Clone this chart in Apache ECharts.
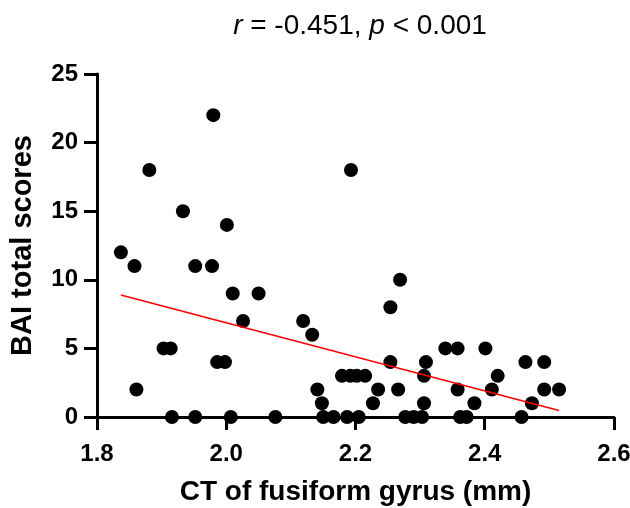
<!DOCTYPE html>
<html>
<head>
<meta charset="utf-8">
<script src="https://cdn.jsdelivr.net/npm/echarts@6/dist/echarts.min.js"></script>
<style>
  html, body { margin: 0; padding: 0; background: #fff; }
  #chart { width: 630px; height: 508px; }
</style>
</head>
<body>
<div id="chart"></div>
<script>
// CT of fusiform gyrus (mm) and BAI total score
const ctValues = [
  1.980, 1.881, 2.193, 1.933, 2.001, 1.837, 1.858, 1.952, 1.978, 2.269,
  2.010, 2.050, 2.254, 2.026, 2.119, 2.133,
  1.903, 1.914, 2.339, 2.358, 2.401,
  1.986, 1.998, 2.254, 2.309, 2.463, 2.492,
  2.179, 2.192, 2.202, 2.215, 2.306, 2.420,
  1.861, 2.141, 2.235, 2.266, 2.358, 2.411, 2.492, 2.515,
  2.148, 2.227, 2.306, 2.384, 2.473,
  1.916, 1.952, 2.007, 2.076, 2.150, 2.166, 2.187, 2.205, 2.277, 2.290, 2.303, 2.362, 2.372, 2.457
]
const baiValues = [
  22, 18, 18, 15, 14, 12, 11, 11, 11, 10,
  9, 9, 8, 7, 7, 6,
  5, 5, 5, 5, 5,
  4, 4, 4, 4, 4, 4,
  3, 3, 3, 3, 3, 3,
  2, 2, 2, 2, 2, 2, 2, 2,
  1, 1, 1, 1, 1,
  0, 0, 0, 0, 0, 0, 0, 0, 0, 0, 0, 0, 0, 0
]
const xTicks = [1.8, 2.0, 2.2, 2.4, 2.6]
const yTicks = [0, 5, 10, 15, 20, 25]

const points = ctValues.map((x, i) => [x, baiValues[i]])

// least squares fit for the red line
const n = ctValues.length
const mx = ctValues.reduce((a, b) => a + b, 0) / n
const my = baiValues.reduce((a, b) => a + b, 0) / n
let sxy = 0, sxx = 0
ctValues.forEach((x, i) => {
  sxy += (x - mx) * (baiValues[i] - my)
  sxx += (x - mx) * (x - mx)
})
const slope = sxy / sxx
const icpt = my - slope * mx
const xLo = Math.min(...ctValues), xHi = Math.max(...ctValues)
const fitLine = [[xLo, icpt + slope * xLo], [xHi, icpt + slope * xHi]]

const font = 'Liberation Sans, Arial, sans-serif'
const chart = echarts.init(document.getElementById('chart'))

chart.setOption({
  animation: false,
  title: {
    text: '{i|r} = -0.451, {i|p} < 0.001',
    left: 355,
    textAlign: 'center',
    top: 7,
    textStyle: {
      fontFamily: font, fontSize: 28, fontWeight: 'normal', color: '#000',
      rich: { i: { fontFamily: font, fontSize: 28, fontStyle: 'italic', color: '#000' } }
    }
  },
  grid: { left: 97, right: 16, top: 74, bottom: 91, outerBoundsMode: 'none' },
  xAxis: {
    type: 'value',
    min: xTicks[0], max: xTicks[xTicks.length - 1], interval: 0.2,
    name: 'CT of fusiform gyrus (mm)',
    nameLocation: 'middle',
    nameGap: 61,
    nameTextStyle: { fontFamily: font, fontSize: 28, fontWeight: 'bold', color: '#000' },
    axisLine: { onZero: false, lineStyle: { color: '#000', width: 3 } },
    axisTick: { length: 13, lineStyle: { color: '#000', width: 3 } },
    axisLabel: {
      margin: 25, fontFamily: font, fontSize: 24, fontWeight: 'bold', color: '#000',
      formatter: v => v.toFixed(1)
    },
    splitLine: { show: false }
  },
  yAxis: {
    type: 'value',
    min: yTicks[0], max: yTicks[yTicks.length - 1], interval: 5,
    name: 'BAI total scores',
    nameLocation: 'middle',
    nameGap: 60,
    nameTextStyle: { fontFamily: font, fontSize: 29, fontWeight: 'bold', color: '#000' },
    axisLine: { show: true, onZero: false, lineStyle: { color: '#000', width: 3 } },
    axisTick: { show: true, length: 13, lineStyle: { color: '#000', width: 3 } },
    axisLabel: { margin: 19, fontFamily: font, fontSize: 24, fontWeight: 'bold', color: '#000' },
    splitLine: { show: false }
  },
  series: [
    {
      type: 'scatter',
      data: points,
      symbolSize: 14,
      itemStyle: { color: '#000', opacity: 1 },
      z: 5
    },
    {
      type: 'line',
      data: fitLine,
      symbol: 'none',
      lineStyle: { color: '#ff0000', width: 1.5 },
      z: 6
    }
  ]
})
</script>
</body>
</html>
